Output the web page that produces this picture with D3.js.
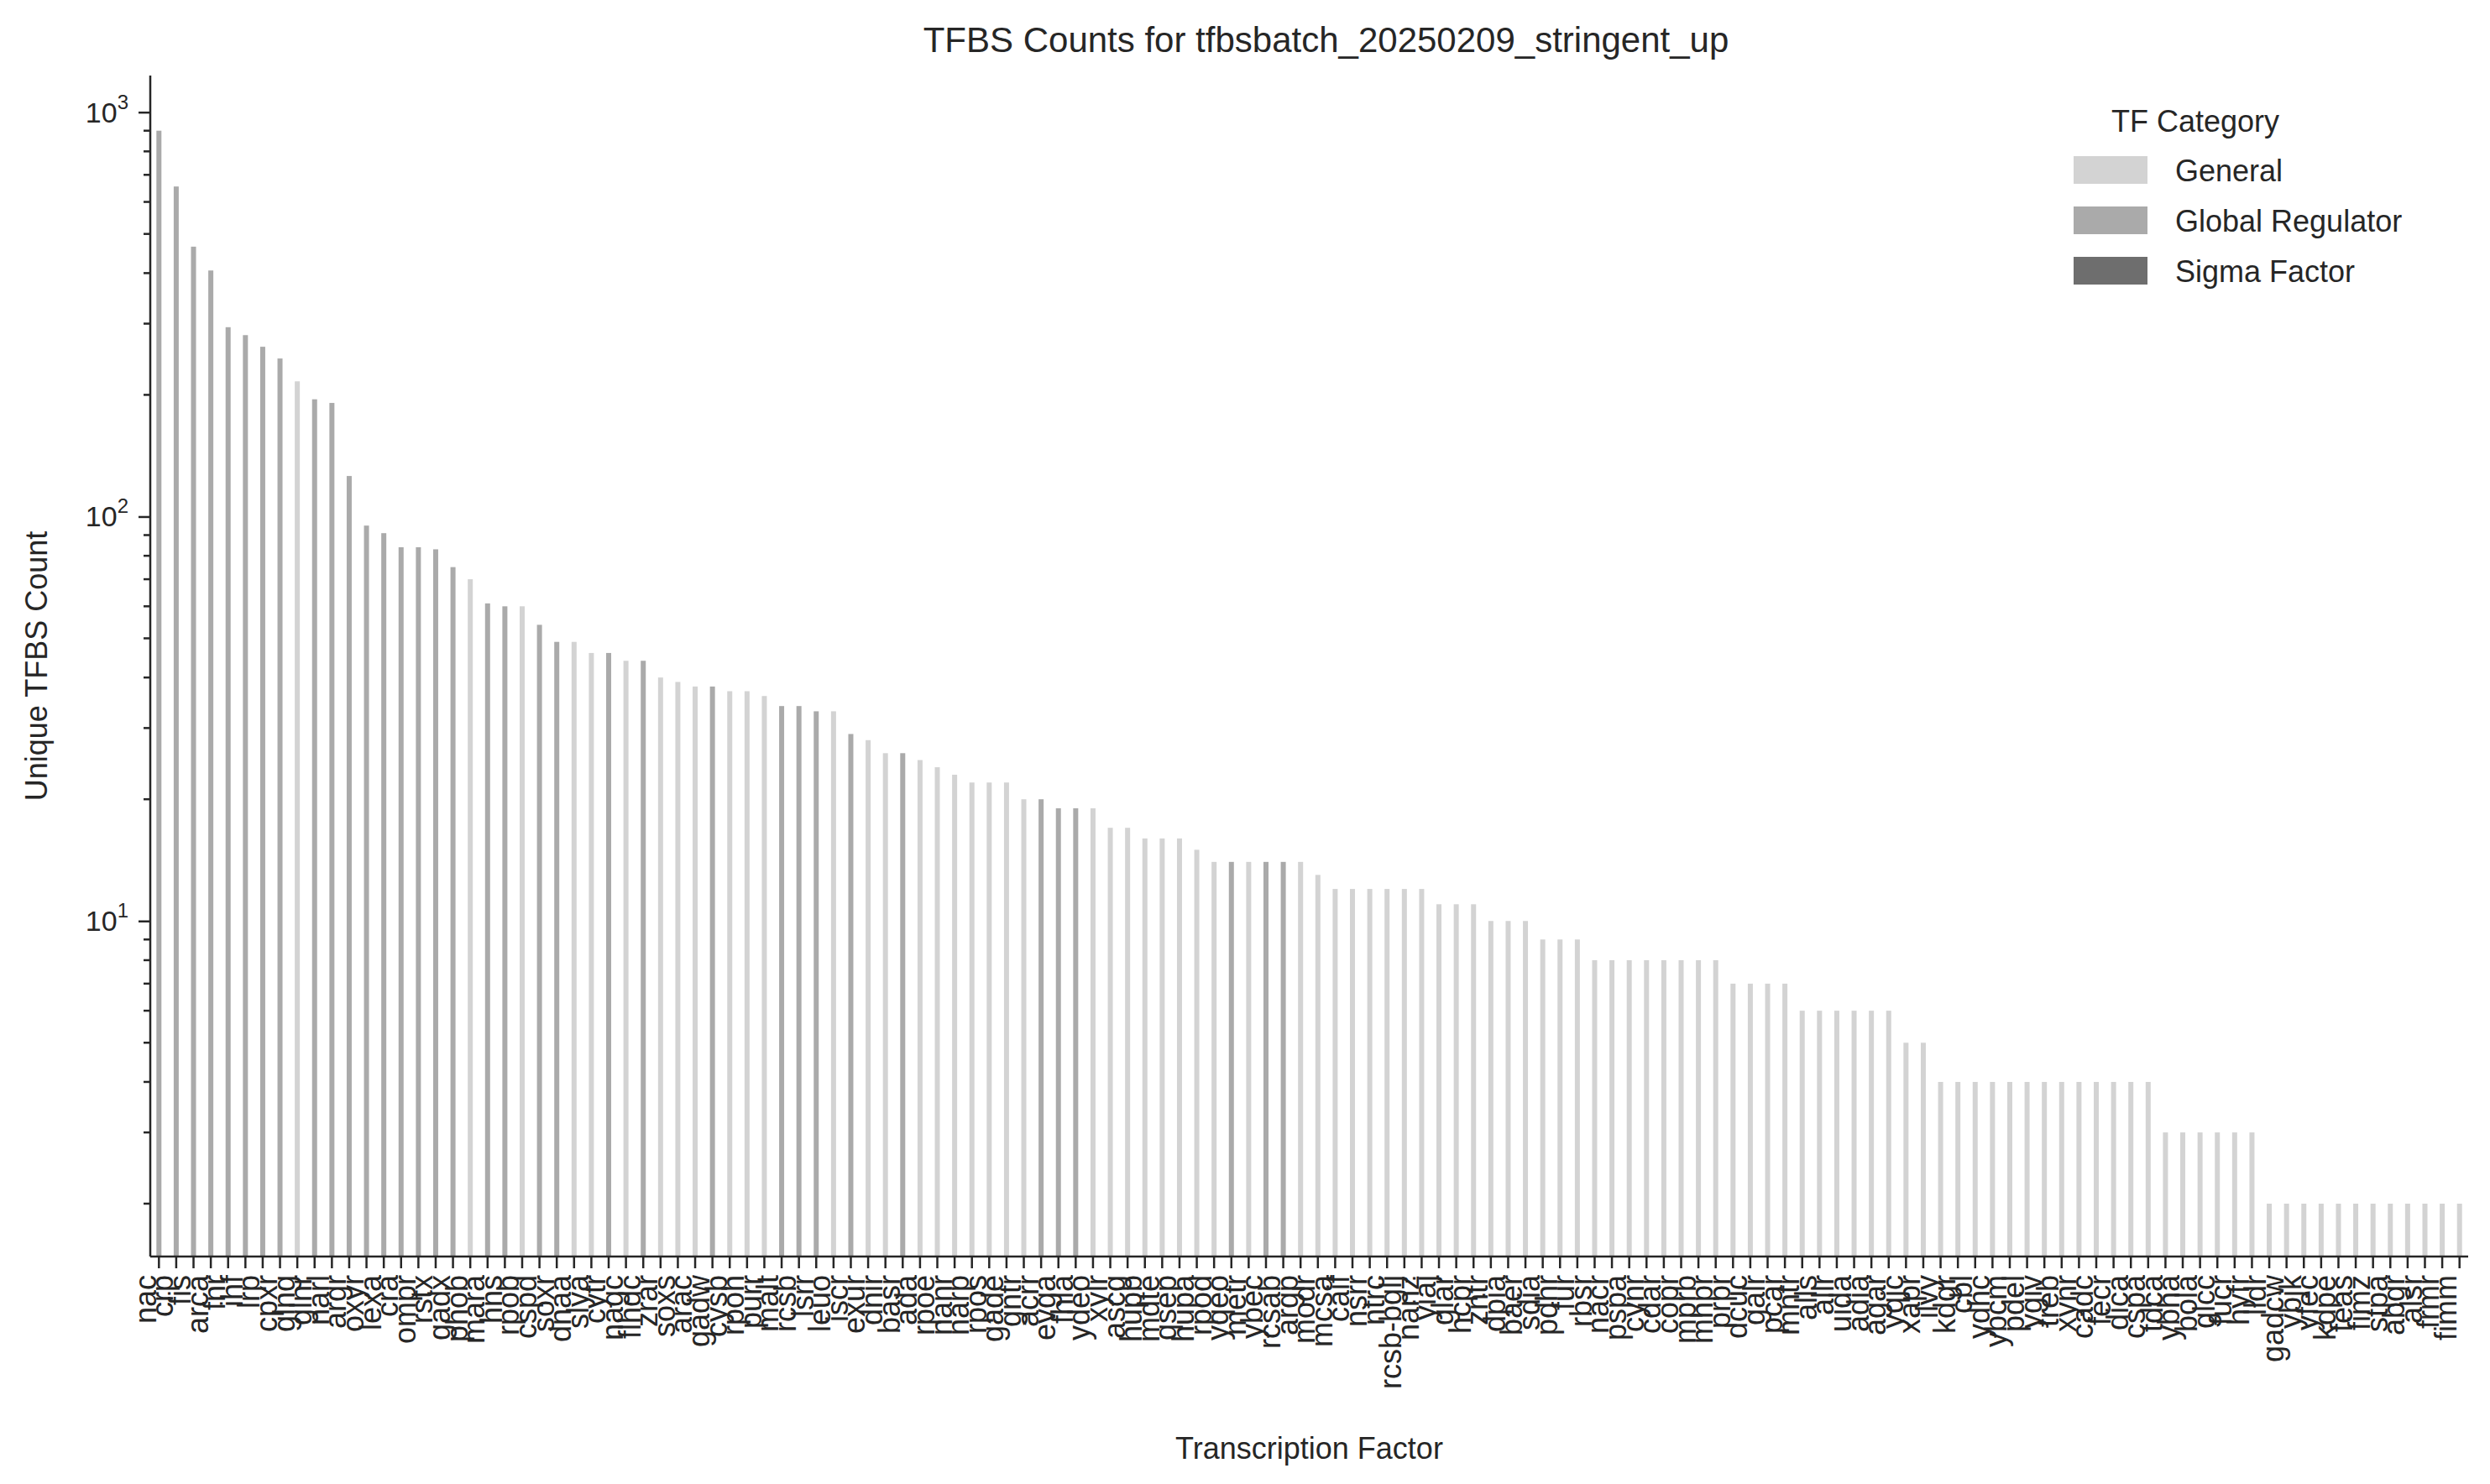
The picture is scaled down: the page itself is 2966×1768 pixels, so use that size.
<!DOCTYPE html>
<html>
<head>
<meta charset="utf-8">
<script src="https://cdn.jsdelivr.net/npm/d3@7"></script>
<style>
  body { margin: 0; background: #fff; }
  text { font-family: "Liberation Sans", Arial, sans-serif; fill: #262626; }
</style>
</head>
<body>
<svg id="chart" width="2966" height="1768"></svg>
<script>
// transcription factors, in plotted order
var factors = ["nac","crp","fis","arca","fnr","ihf","lrp","cpxr","glng","glnr","narl","argr","oxyr","lexa","cra","ompr","rstx","gadx",
  "phob","mara","hns","rpob","cspd","soxr","dnaa","slya","cytr","nagc","flhdc","zrar","soxs","arac","gadw","cysb","rpoh","purr",
  "malt","rcsb","lsrr","leuo","iscr","exur","dnir","basr","ada","rpoe","nanr","narp","rpos","gade","gntr","acrr","evga","fhla",
  "ydeo","xylr","ascg","hupb","mdte","qsep","hupa","rpod","yqeo","metr","ybec","rcsab","argp","modr","mcsa","caif","nsrr","ntrc",
  "rcsb-bglj","nanz","yiaj","glar","hcpr","zntr","dpia","baer","sdia","pdhr","fur","rbsr","nacr","pspa","cynr","cdar","copr","mprb",
  "mhpr","prpr","dcuc","galr","pcar","mntr","alls","allr","uida","adia","agar","yqjc","xapr","ilvy","kdgr","cbl","ydhc","ybcm",
  "pdel","ygiv","treb","xynr","cadc","fecr","dica","cspa","tdca","ybha","bola","glcc","fucr","hyfr","lldr","gadcw","ybjk","yfec",
  "kdpe","feas","fimz","stpa","abgr","alsr","frmr","fimm"];
// unique TFBS counts
var counts = [900,655,465,406,294,281,263,246,216,195,191,126,95,91,84,84,83,75,70,61,60,60,54,49,49,46,46,44,44,40,39,38,38,37,37,36,
  34,34,33,33,29,28,26,26,25,24,23,22,22,22,20,20,19,19,19,17,17,16,16,16,15,14,14,14,14,14,14,13,12,12,12,12,12,12,11,11,11,
  10,10,10,9,9,9,8,8,8,8,8,8,8,8,7,7,7,7,6,6,6,6,6,6,5,5,
  4,4,4,4,4,4,4,4,4,4,4,4,4,3,3,3,3,3,3,2,2,2,2,2,2,2,2,2,2,2,2,2,2,2,2];
// TF category per factor (G = Global Regulator, N = General, S = Sigma Factor)
var kinds = "GGGGGGGGNGGGGGGGGGNGGNGGNNGNGNNNGNNNGGGNGNNGNNNNNNNGGGNNNNNNNNGNGGN";
var categories = ["General", "Global Regulator", "Sigma Factor"];
var categoryColors = ["#d3d3d3", "#aaaaaa", "#6e6e6e"];
var kindToCategory = { N: "General", G: "Global Regulator", S: "Sigma Factor" };
var yMajorTicks = [10, 100, 1000];

var svg = d3.select("#chart");
var plotLeft = 179, plotRight = 2940, plotTop = 90, plotBottom = 1497;

var x = d3.scaleBand().domain(factors).range([plotLeft, plotRight]).padding(0);
var y = d3.scaleLog().domain([1.48, 1232]).range([plotBottom, plotTop]);
var color = d3.scaleOrdinal().domain(categories).range(categoryColors);

var data = factors.map(function(f, i) {
  return { name: f, value: counts[i], cat: kindToCategory[kinds[i]] || "General" };
});

var barW = 6;
svg.append("g").selectAll("rect").data(data).enter().append("rect")
  .attr("x", function(d) { return x(d.name) + x.bandwidth() / 2 - barW / 2; })
  .attr("width", barW)
  .attr("y", function(d) { return y(d.value); })
  .attr("height", function(d) { return plotBottom - y(d.value); })
  .attr("fill", function(d) { return color(d.cat); });

// x axis
var xAxis = svg.append("g").attr("transform", "translate(0," + plotBottom + ")")
  .call(d3.axisBottom(x).tickSize(14).tickPadding(8));
xAxis.selectAll("text")
  .attr("transform", "rotate(-90)")
  .attr("text-anchor", "end")
  .attr("dx", "-22")
  .attr("dy", "-0.1em")
  .attr("x", 0).attr("y", 0)
  .style("font-size", "36px");
xAxis.selectAll("line, path").attr("stroke", "#262626").attr("stroke-width", 2.5);
xAxis.select(".domain").attr("d", "M" + plotLeft + ",0H" + plotRight);

// y axis
var minor = [];
for (var p = 0; p <= 3; p++) for (var k = 2; k < 10; k++) {
  var v = k * Math.pow(10, p);
  if (v >= 1.48 && v <= 1232) minor.push(v);
}
var yg = svg.append("g").attr("transform", "translate(" + plotLeft + ",0)");
yg.call(d3.axisLeft(y).tickValues(yMajorTicks).tickSize(14).tickPadding(8).tickFormat(""));
yg.selectAll(".minor").data(minor).enter().append("line")
  .attr("class", "minor")
  .attr("x1", 0).attr("x2", -8)
  .attr("y1", function(d) { return y(d); }).attr("y2", function(d) { return y(d); })
  .attr("stroke", "#262626").attr("stroke-width", 2);
yg.selectAll("line, path").attr("stroke", "#262626").attr("stroke-width", 2.5);
yg.select(".domain").attr("d", "M0," + plotTop + "V" + plotBottom);
yMajorTicks.forEach(function(t) {
  var lbl = yg.append("text").attr("x", -26).attr("y", y(t) + 12)
    .attr("text-anchor", "end").style("font-size", "34px");
  lbl.append("tspan").text("10");
  lbl.append("tspan").attr("dy", -16).style("font-size", "24px").text(Math.round(Math.log10(t)));
});

// titles
svg.append("text").attr("x", (plotLeft + plotRight) / 2 + 20).attr("y", 62)
  .attr("text-anchor", "middle").style("font-size", "42px")
  .text("TFBS Counts for tfbsbatch_20250209_stringent_up");
svg.append("text").attr("x", (plotLeft + plotRight) / 2).attr("y", 1738)
  .attr("text-anchor", "middle").style("font-size", "36px").text("Transcription Factor");
svg.append("text").attr("transform", "translate(56," + (plotTop + plotBottom) / 2 + ") rotate(-90)")
  .attr("text-anchor", "middle").style("font-size", "36px").text("Unique TFBS Count");

// legend
var lg = svg.append("g").attr("transform", "translate(2470,0)");
lg.append("text").attr("x", 145).attr("y", 157).attr("text-anchor", "middle")
  .style("font-size", "36px").text("TF Category");
categories.forEach(function(c, i) {
  lg.append("rect").attr("x", 0).attr("y", 186 + i * 60).attr("width", 88).attr("height", 33).attr("fill", color(c));
  lg.append("text").attr("x", 121).attr("y", 216 + i * 60).style("font-size", "36px").text(c);
});
</script>
</body>
</html>
